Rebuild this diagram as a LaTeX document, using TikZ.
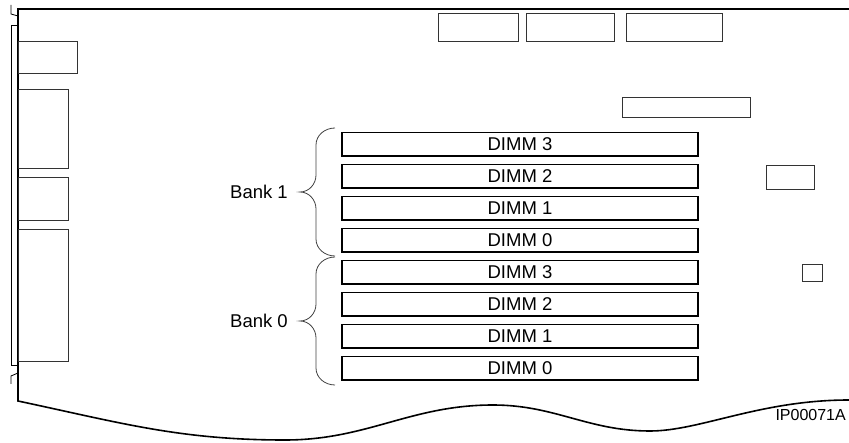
\documentclass[tikz,border=0pt]{standalone}
\usepackage{fontspec}
\setmainfont{Liberation Sans}
\usepackage{tikz}

\begin{document}
\begin{tikzpicture}
[x=1pt,y=1pt,%
  every node/.style={font=\fontsize{18.5}{22}\selectfont,inner sep=0pt},%
  board/.style={line width=1.6pt,line join=miter},%
  part/.style={draw=black!80,line width=0.9pt},%
  dimm/.style={draw,line width=1.5pt,minimum width=356,minimum height=23.5},%
  bankbrace/.style={draw=black!75,line width=0.8pt}]
\useasboundingbox (0,0) rectangle (849,442);
%% board outline
\draw[board] (849,433) -- (18,433) -- (18,41)
  to[out=-12,in=180] (285,2)
  to[out=0,in=180] (493,37)
  to[out=0,in=180] (650,11)
  .. controls (700,11) and (760,42) .. (849,42);
%% edge strip and notches
\draw[line width=0.8pt] (11,437) -- (11,428) -- (18,426);
\draw[line width=0.8pt] (18,417) -- (11,417) -- (11,77) -- (18,77);
\draw[line width=0.8pt] (18,69) -- (11,66) -- (11,58);
%% left side parts
\draw[part] (18,401) rectangle (77,369);
\draw[part] (18,353) rectangle (68.7,273.3);
\draw[part] (18,265) rectangle (68.7,222);
\draw[part] (18,213) rectangle (68.7,81);
%% top parts
\draw[part] (438,429) rectangle (518,401);
\draw[part] (526,429) rectangle (614,401);
\draw[part] (626,429) rectangle (722,401);
\draw[part] (622,345) rectangle (750,325);
%% right side parts
\draw[part] (766,277) rectangle (814,253);
\draw[part] (802,178) rectangle (822,161);
%% DIMM slots
\foreach \row/\lab in {0/3,1/2,2/1,3/0,4/3,5/2,6/1,7/0}
{
  \node[dimm] (dimm\row) at (520,297.5-32*\row) {DIMM \lab};
}
%% banks
\foreach \bank/\ymid in {1/250,0/121}
{
  \draw[bankbrace] (335,\ymid+64) to[out=180,in=90] (316,\ymid+47)
    -- (316,\ymid+17) to[out=-90,in=0] (300,\ymid)
    to[out=0,in=90] (316,\ymid-17) -- (316,\ymid-47)
    to[out=-90,in=180] (335,\ymid-64);
  \node[anchor=east] (bank\bank) at (288,\ymid) {Bank \bank};
}
\node[anchor=base east,font=\fontsize{16}{19}\selectfont] (figid) at (846,21) {IP00071A};
\end{tikzpicture}
\end{document}
